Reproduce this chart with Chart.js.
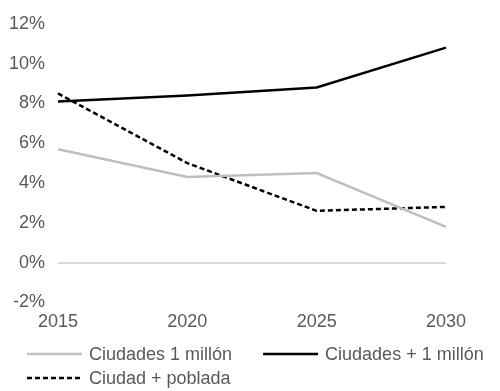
<!DOCTYPE html>
<html>
<head>
<meta charset="utf-8">
<script src="https://cdn.jsdelivr.net/npm/chart.js@4/dist/chart.umd.min.js"></script>
<style>
  body { margin: 0; background: #fff; }
  #caja { width: 500px; height: 391px; }
</style>
</head>
<body>
<div id="caja"><canvas id="grafico"></canvas></div>
<script>
const anios = ['2015', '2020', '2025', '2030'];
const ciudades1Millon = [5.7, 4.3, 4.5, 1.8];
const ciudadesMas1Millon = [8.1, 8.4, 8.8, 10.8];
const ciudadMasPoblada = [8.5, 5.0, 2.6, 2.8];
const nombres = ['Ciudades 1 millón', 'Ciudades + 1 millón', 'Ciudad + poblada'];

const fuente = { family: 'Liberation Sans, Arial, sans-serif', size: 18 };
const gris = '#595959';

// leyenda dibujada a mano, abajo y alineada a la izquierda
const leyenda = {
    id: 'leyenda',
    afterDraw(chart) {
        const c = chart.ctx;
        const largo = 55, hueco = 7, separacion = 31;
        let x = 27, y = 354;
        c.save();
        c.font = fuente.size + 'px ' + fuente.family;
        c.textBaseline = 'middle';
        c.textAlign = 'left';
        chart.data.datasets.forEach(ds => {
            const ancho = largo + hueco + c.measureText(ds.label).width;
            if (x > 27 && x + ancho > chart.width - 10) {
                x = 27;
                y += 24;
            }
            c.beginPath();
            c.strokeStyle = ds.borderColor;
            c.lineWidth = ds.borderWidth;
            c.setLineDash(ds.borderDash || []);
            c.moveTo(x, y);
            c.lineTo(x + largo, y);
            c.stroke();
            c.setLineDash([]);
            c.fillStyle = gris;
            c.fillText(ds.label, x + largo + hueco, y + 1);
            x += ancho + separacion;
        });
        c.restore();
    }
};

let config = {
    type: 'line',
    data: {
        labels: anios,
        datasets: [{
            label: nombres[0],
            data: ciudades1Millon,
            borderColor: '#bfbfbf',
            borderWidth: 2.5
        }, {
            label: nombres[1],
            data: ciudadesMas1Millon,
            borderColor: '#000000',
            borderWidth: 2.5
        }, {
            label: nombres[2],
            data: ciudadMasPoblada,
            borderColor: '#000000',
            borderWidth: 2.5,
            borderDash: [5, 3]
        }]
    },
    options: {
        responsive: true,
        maintainAspectRatio: false,
        animation: false,
        elements: {
            point: { radius: 0 },
            line: { tension: 0, fill: false }
        },
        layout: { padding: { left: 0, right: 54, top: 22, bottom: 57 } },
        scales: {
            x: {
                offset: false,
                grid: { display: false },
                border: { display: false },
                ticks: { color: gris, font: fuente, padding: 1, maxRotation: 0 }
            },
            y: {
                min: -2,
                max: 12,
                afterFit: escala => { escala.width = 58; },
                border: { display: false },
                grid: {
                    drawTicks: false,
                    lineWidth: 2,
                    color: ctx => ctx.tick && ctx.tick.value === 0 ? '#d9d9d9' : 'transparent'
                },
                ticks: {
                    stepSize: 2,
                    color: gris,
                    font: fuente,
                    padding: 13,
                    callback: v => v + '%'
                }
            }
        },
        plugins: {
            tooltip: { enabled: false },
            legend: { display: false }
        }
    },
    plugins: [leyenda]
};

let ctx = document.getElementById('grafico').getContext('2d');
window.miGrafico = new Chart(ctx, config);
</script>
</body>
</html>
